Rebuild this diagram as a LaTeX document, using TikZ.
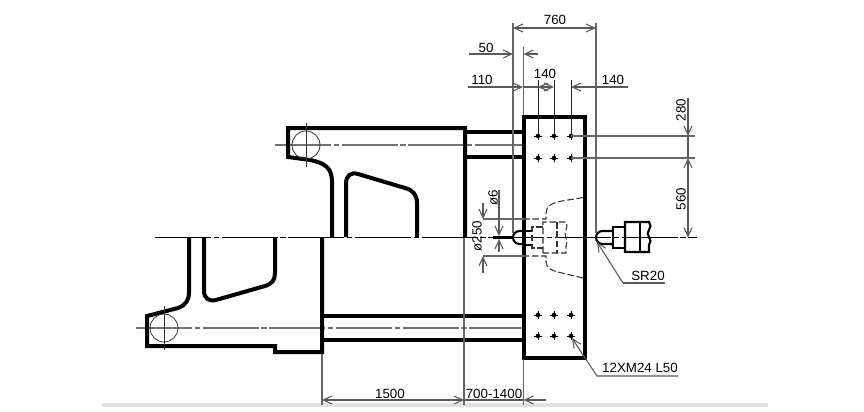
\documentclass[tikz,border=0pt]{standalone}
\usepackage{fontspec}
\setmainfont{Liberation Sans}
\usetikzlibrary{arrows.meta}
\tikzset{
  heavy/.style={line width=3pt, line join=miter},
  thin gray/.style={line width=0.8pt, draw=black!60},
  axis/.style={line width=0.8pt, dash pattern=on 42pt off 2pt on 4pt off 2pt},
  center gray/.style={line width=0.9pt, draw=black!55, dash pattern=on 42pt off 2pt on 4pt off 2pt},
  hidden/.style={line width=0.8pt, draw=black!80, dash pattern=on 5pt off 2pt},
  dim/.style={line width=0.8pt, draw=black!65, >={Straight Barb[length=6.5pt,width=6pt]}},
  label/.style={font=\fontsize{10pt}{10pt}\selectfont, inner sep=0},
}
\begin{document}
\begin{tikzpicture}[x=0.75pt, y=-0.75pt]
  \useasboundingbox (0,0) rectangle (864,411);
  \fill[black!12] (102,403) rectangle (768,406.5);
  % centre lines
  \draw[axis] (155,237.5) -- (697,237.5);
  \draw[center gray] (275,145) -- (523,145);
  \draw[center gray] (136,328) -- (523,328);
  % frame, upper half
  \draw[heavy] (465,237) -- (465,128) -- (288,128) -- (288,157) -- (310,160)
    .. controls (325,163) and (332,168) .. (332,182) -- (332,237);
  \draw[heavy] (346,237) -- (346,184) .. controls (346,175) and (351,172) .. (358,174)
    -- (405,188) .. controls (413,190) and (417,195) .. (417,203) -- (417,237);
  % frame, lower half
  \draw[heavy] (322,237) -- (322,352) -- (275,352) -- (275,346) -- (147,346) -- (147,316)
    -- (178,308) .. controls (186,305) and (189,300) .. (189,292) -- (189,237);
  \draw[heavy] (204,237) -- (204,291) .. controls (204,298) and (209,302) .. (216,300)
    -- (265,286) .. controls (272,284) and (275,280) .. (275,273) -- (275,237);
  % tie bars
  \foreach \y/\xa in {131.7/465, 157/465, 316/322, 340/322}
    \draw[heavy] (\xa,\y) -- (523,\y);
  % pivots
  \foreach \cx/\cy in {306/145, 164/328} {
    \draw[line width=0.6pt, black!80] (\cx,\cy) circle (14);
    \draw[line width=0.6pt, black!80] (\cx,\cy-22) -- (\cx,\cy+22);
  }
  % platen
  \draw[heavy] (523.5,117) rectangle (585,357.5);
  \foreach \x in {538,554,571}
    \foreach \y in {136,158,315,336} {
      \fill (\x,\y) circle (2.3);
      \draw[line width=0.6pt] (\x-4,\y) -- (\x+4,\y) (\x,\y-4) -- (\x,\y+4);
    }
  % sprue bush, behind the platen face
  \draw[line width=1.6pt] (523,231) -- (519.5,231) arc[start angle=270, end angle=90, radius=6.5] -- (523,244);
  \draw[line width=1.6pt] (493,237.5) -- (513,237.5);
  \draw[line width=1.2pt] (525,231) -- (532,231) (525,245) -- (532,245);
  \draw[hidden] (583,197.5) -- (562,201) .. controls (552,203) and (546,206) .. (546,213) -- (546,219) -- (523,219);
  \draw[hidden] (583,278) -- (562,273) .. controls (552,271) and (546,268) .. (546,262) -- (546,256) -- (523,256);
  \draw[hidden] (543,227) -- (532,227) -- (532,248) -- (543,248);
  \draw[hidden] (543,253) -- (543,222) -- (566,222) to[bend left=25] (566,230) to[bend right=25] (566,238)
    to[bend left=25] (566,246) -- (566,253) -- cycle;
  \draw[hidden] (557,222) -- (557,253);
  % nozzle
  \draw[line width=1.6pt] (613,231) -- (602.5,231) arc[start angle=270, end angle=90, radius=6.5] -- (613,244);
  \draw[line width=1.6pt] (613,227) rectangle (625,248);
  \draw[line width=1.6pt] (625,222) -- (649,222) to[bend left=40] (649,230) to[bend right=40] (649,237)
    to[bend left=40] (649,245) -- (649,252) -- (625,252) -- cycle;
  \draw[line width=1.2pt] (640,222) -- (640,252);
  % extension lines
  \begin{scope}[thin gray]
    \draw (513,23) -- (513,233);
    \draw (596,23) -- (596,233);
    \draw (523.5,47) -- (523.5,115);
    \draw (322,354) -- (322,405);
    \draw (464,238) -- (464,405);
    \draw (523.5,359) -- (523.5,405);
    \draw (571,136) -- (695,136);
    \draw (571,158) -- (695,158);
    \draw (483,219) -- (525,219);
    \draw (483,256) -- (525,256);
  \end{scope}
  \foreach \x in {538,554,571}
    \draw[line width=0.7pt, black!85] (\x,80) -- (\x,134);
  % dimensions
  \begin{scope}[dim]
    \draw[<->] (513,28) -- (596,28);
    \draw[->] (469,54) -- (513,54);
    \draw[->] (538,54) -- (523.5,54);
    \draw[->] (468,87) -- (523,87);
    \draw[<->] (538,87) -- (554,87);
    \draw (523,87) -- (538,87);
    \draw[->] (628,87) -- (571,87);
    \draw[->] (688,98) -- (688,136);
    \draw[<->] (688,158) -- (688,237.5);
    \draw (688,136) -- (688,158);
    \draw[->] (499,190) -- (499,236);
    \draw[->] (499,252) -- (499,239);
    \draw[->] (483,203) -- (483,219);
    \draw[->] (483,273) -- (483,256);
    \draw[<->] (322,400) -- (464,400);
    \draw[->] (546,400) -- (523.5,400);
    \draw (464,400) -- (523.5,400);
    \draw[->] (623,283) -- (597,242);
    \draw (665,283) -- (623,283);
    \draw[->] (583,355) -- (572,338);
    \draw (678,376) -- (597,376) -- (583,355);
  \end{scope}
  % texts
  \node[label] (d760) at (555,20) {760};
  \node[label] (d50) at (486,48) {50};
  \node[label] (d110) at (482,80) {110};
  \node[label] (d140a) at (545,74) {140};
  \node[label] (d140b) at (613,80) {140};
  \node[label, rotate=90] (d280) at (681,110) {280};
  \node[label, rotate=90] (d560) at (681,199) {560};
  \node[label, rotate=90] (dphia) at (493,198) {ø6};
  \node[label, rotate=90] (dphib) at (477,236) {ø250};
  \node[label] (dsr) at (648,276) {SR20};
  \node[label] (dbolt) at (640,368) {12XM24 L50};
  \node[label] (dstroke) at (390,394) {1500};
  \node[label] (dopen) at (494,394) {700-1400};
\end{tikzpicture}
\end{document}
